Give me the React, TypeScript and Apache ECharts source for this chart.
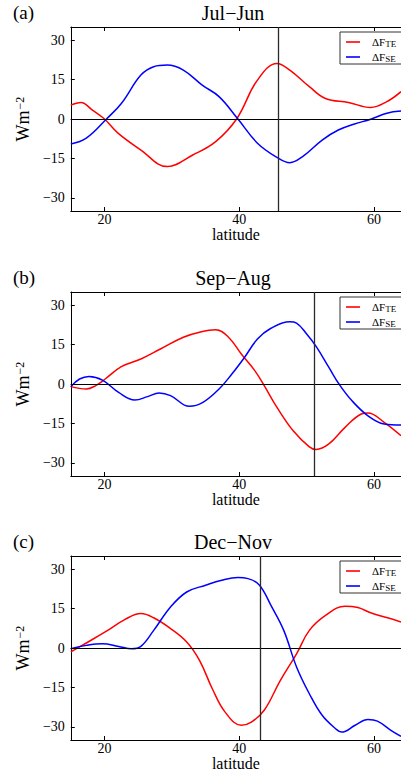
import React, { useEffect, useRef } from "react";
import * as echarts from "echarts";

const panelTitles = ["Jul\u2212Jun", "Sep\u2212Aug", "Dec\u2212Nov"];
const panelTags = ["(a)", "(b)", "(c)"];
const xTicks = [20, 40, 60];
const yTicks = [-30, -15, 0, 15, 30];
const seriesNames = ["TE", "SE"];
const vLines = [45.8, 51.2, 43.1];

const latA_TE = [15, 16.5, 18.2, 20, 22, 25.4, 29.3, 33.1, 36.5, 39.6, 42.7, 45.6, 47.5, 50.4, 52.8, 56.2, 59.5, 61.9, 64];
const valA_TE = [5.3, 6.3, 3.4, 0, -5.4, -11.8, -18.1, -13.7, -8.6, 0, 14.8, 21.1, 18.6, 12.3, 7.8, 6.3, 4.4, 6.6, 10.4];
const latA_SE = [15, 17.3, 20.3, 22.5, 25.4, 27.3, 29.3, 31.7, 34.5, 37, 39.8, 42.7, 45.6, 47.5, 49.4, 52.3, 54.7, 57.1, 59.5, 61.9, 64];
const valA_SE = [-9.5, -7.3, 0, 5.9, 16.7, 19.9, 20.5, 18.6, 12.9, 8.5, 0, -9.2, -14.6, -16.6, -14.3, -8, -4.2, -1.9, -0.1, 2.2, 3];

const latB_TE = [15, 17.3, 18.7, 20.1, 22.5, 25.4, 28.3, 31.7, 34.1, 36.5, 38.4, 40.3, 42.3, 43.7, 45.6, 48, 50.4, 51.4, 53.3, 55.7, 58.1, 59.1, 61.5, 64];
const valB_TE = [-1, -1.9, -0.6, 1.9, 6.6, 9.5, 13.3, 17.8, 19.7, 20.6, 17.8, 11.4, 5.1, -0.6, -8.9, -17.8, -23.9, -24.9, -22.8, -16.5, -11.4, -11, -14.6, -19.7];
const latB_SE = [15, 16.3, 17.7, 19.7, 22.1, 24.5, 26.4, 28.1, 29.8, 32.6, 34.6, 37, 38.9, 40.8, 42.7, 44.7, 47.5, 48.5, 50, 51.4, 53.3, 54.8, 56.7, 59.1, 61.5, 64];
const valB_SE = [-1, 1.9, 2.9, 1.5, -3.2, -6.1, -4.8, -3.4, -4.4, -8.5, -7, -1.9, 3.8, 10.2, 17.1, 21.2, 23.7, 23.2, 19, 14.3, 6.3, 0, -6.3, -12.1, -15.2, -15.6];

const latC_TE = [15, 17.3, 20.1, 23, 25.4, 27.3, 29.8, 32.2, 34.1, 36, 37.9, 40.3, 41.8, 43.7, 46.1, 48.5, 50.4, 52.8, 55.7, 57.6, 59.6, 62, 64];
const valC_TE = [-1.5, 1.9, 6.1, 10.8, 13.1, 11.5, 7.4, 2.3, -4.7, -15.5, -24.4, -29.4, -28.2, -23.7, -12.3, -2.2, 6.7, 12.4, 15.9, 15.4, 13.3, 11.5, 9.9];
const latC_SE = [15, 17.3, 19.7, 22.1, 24, 25.4, 27.3, 29.8, 32.2, 35, 37.4, 39.8, 41.3, 43, 44.7, 46.6, 48.5, 50.4, 52.3, 54.3, 55.2, 57.2, 59.1, 60.5, 62.5, 64];
const valC_SE = [-0.3, 1, 1.6, 0.6, -0.3, 0.6, 6.7, 15.6, 21.3, 23.9, 25.8, 26.8, 26.4, 23.9, 16.2, 6.7, -7.2, -17.4, -25.6, -30.7, -32, -29.4, -27.2, -27.8, -31.3, -33.6];

const panels = [
  { te: [latA_TE, valA_TE], se: [latA_SE, valA_SE] },
  { te: [latB_TE, valB_TE], se: [latB_SE, valB_SE] },
  { te: [latC_TE, valC_TE], se: [latC_SE, valC_SE] },
];

const FONT = "Liberation Serif";
const gridTops = [27, 292, 556];
const gridH = 184;
const gridLeft = 61;
const titleCx = 233;

const zip = (a: number[], b: number[]) => a.map((x, i) => [x, b[i]]);
const fmtNum = (v: number) => (v < 0 ? "\u2212" + Math.abs(v) : String(v));

export default function App() {
  const ref = useRef<HTMLDivElement>(null);
  useEffect(() => {
    if (!ref.current) return;
    const chart = echarts.init(ref.current, null, { renderer: "svg" });
    const grid: any[] = [];
    const xAxis: any[] = [];
    const yAxis: any[] = [];
    const series: any[] = [];
    const title: any[] = [];
    const legend: any[] = [];
    panels.forEach((p, i) => {
      const top = gridTops[i];
      grid.push({ left: gridLeft, right: 0, top, height: gridH });
      xAxis.push({
        type: "value",
        gridIndex: i,
        min: 15,
        max: 64,
        position: "bottom",
        name: "latitude",
        nameLocation: "middle",
        nameGap: 15,
        nameTextStyle: { fontFamily: FONT, fontSize: 16, color: "#000" },
        axisLine: { show: true, onZero: false, lineStyle: { color: "#000", width: 1 } },
        axisTick: { show: true, inside: true, length: 4, customValues: xTicks, lineStyle: { color: "#000" } },
        axisLabel: { customValues: xTicks, fontFamily: FONT, fontSize: 14, color: "#000", margin: 1 },
        splitLine: { show: false },
      });
      xAxis.push({
        type: "value",
        gridIndex: i,
        min: 15,
        max: 64,
        position: "top",
        axisLine: { show: true, onZero: false, lineStyle: { color: "#000", width: 1 } },
        axisTick: { show: true, inside: true, length: 4, customValues: xTicks, lineStyle: { color: "#000" } },
        axisLabel: { show: false },
        splitLine: { show: false },
      });
      yAxis.push({
        type: "value",
        gridIndex: i,
        min: -35,
        max: 35,
        name: "{a|Wm}{b|\u22122}",
        nameLocation: "middle",
        nameRotate: 90,
        nameGap: 33,
        nameTextStyle: {
          fontFamily: FONT,
          color: "#000",
          rich: {
            a: { fontFamily: FONT, fontSize: 18, lineHeight: 18, verticalAlign: "bottom", padding: [6, 0, 0, 0], color: "#000" },
            b: { fontFamily: FONT, fontSize: 12, lineHeight: 12, verticalAlign: "top", color: "#000", padding: [0, 0, 0, 1] },
          },
        },
        axisLine: { show: true, onZero: false, lineStyle: { color: "#000", width: 1 } },
        axisTick: { show: true, inside: true, length: 4, customValues: yTicks, lineStyle: { color: "#000" } },
        axisLabel: { customValues: yTicks, fontFamily: FONT, fontSize: 14, color: "#000", margin: 6, formatter: fmtNum },
        splitLine: { show: false },
      });
      title.push({
        text: panelTitles[i],
        left: titleCx,
        textAlign: "center",
        top: top - 24,
        padding: 0,
        textStyle: { fontFamily: FONT, fontSize: 20, fontWeight: "normal", color: "#000" },
      });
      title.push({
        text: panelTags[i],
        left: 13,
        top: top - 24,
        padding: 0,
        textStyle: { fontFamily: FONT, fontSize: 19, fontWeight: "normal", color: "#000" },
      });
      legend.push({
        orient: "vertical",
        left: 340,
        top: top + 5,
        padding: [1, 20, 1, 6],
        itemGap: 0,
        icon: "rect",
        itemWidth: 14,
        itemHeight: 1.6,
        borderColor: "#333",
        borderWidth: 1,
        borderRadius: 0,
        backgroundColor: "#fff",
        data: seriesNames.map((n) => "\u0394F_" + n),
        formatter: (name: string) => "{d|\u0394F}{s|" + name.split("_")[1] + "}",
        textStyle: {
          rich: {
            d: { fontFamily: FONT, fontSize: 11, lineHeight: 12, verticalAlign: "top", color: "#000", padding: [0, 0, 0, 7] },
            s: { fontFamily: FONT, fontSize: 9, lineHeight: 10, verticalAlign: "bottom", color: "#000", padding: [6, 0, 0, 0] },
          },
        },
      });
      const mk = (key: "te" | "se", color: string, withMarks: boolean) => {
        const s: any = {
          type: "line",
          name: "\u0394F_" + (key === "te" ? "TE" : "SE"),
          xAxisIndex: i * 2,
          yAxisIndex: i,
          data: zip(p[key][0], p[key][1]),
          smooth: 0.4,
          symbol: "none",
          lineStyle: { color, width: 1.5 },
          itemStyle: { color },
          z: 3,
        };
        if (withMarks) {
          s.markLine = {
            silent: true,
            symbol: ["none", "none"],
            label: { show: false },
            lineStyle: { color: "#000", width: 1, type: "solid" },
            data: [
              { yAxis: 0 },
              { xAxis: vLines[i], lineStyle: { color: "#2a2a2a", width: 1.3, type: "solid" } },
            ],
          };
        }
        return s;
      };
      series.push(mk("te", "#ff0000", true));
      series.push(mk("se", "#0000ff", false));
    });
    chart.setOption({
      animation: false,
      backgroundColor: "#fff",
      title,
      legend,
      grid,
      xAxis,
      yAxis,
      series,
    });
    return () => chart.dispose();
  }, []);
  return (
    <div
      ref={ref}
      style={{ position: "fixed", left: 0, top: 0, width: 401, height: 774, background: "#fff" }}
    />
  );
}
